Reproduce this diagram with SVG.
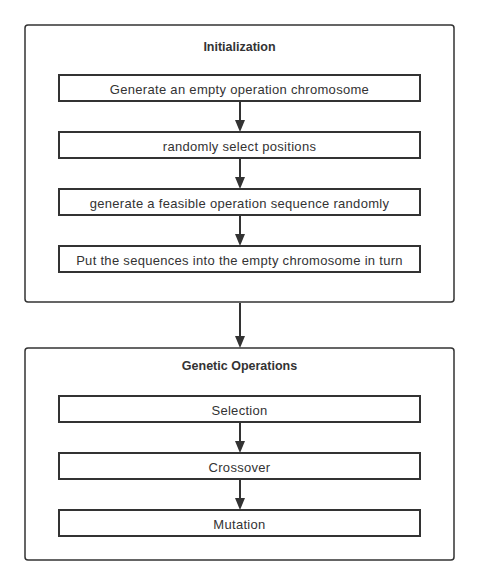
<svg xmlns="http://www.w3.org/2000/svg" width="479" height="585" viewBox="0 0 479 585">
<defs>
<style>
.outer{fill:#fff;stroke:#333;stroke-width:1.5}
.box{fill:#fff;stroke:#333;stroke-width:2}
.t{font-family:"Liberation Sans",Arial,sans-serif;font-size:13px;letter-spacing:0.3px;fill:#333;text-anchor:middle;dominant-baseline:central}
.h{font-weight:bold;font-size:12.5px;letter-spacing:0}
</style>
</defs>
<rect width="479" height="585" fill="#fff"/>
<g id="initialization">
<rect class="outer" x="25" y="25" width="429" height="277" rx="3"/>
<text class="t h" x="239.5" y="47">Initialization</text>
</g>
<g id="gen-empty"><rect class="box" x="59" y="75" width="361" height="26"/><text class="t" x="239.5" y="89.5">Generate an empty operation chromosome</text></g>
<g id="select-pos"><rect class="box" x="59" y="132" width="361" height="26"/><text class="t" x="239.5" y="146.5">randomly select positions</text></g>
<g id="gen-seq"><rect class="box" x="59" y="189" width="361" height="26"/><text class="t" x="239.5" y="203.5">generate a feasible operation sequence randomly</text></g>
<g id="put-seq"><rect class="box" x="59" y="246" width="361" height="26"/><text class="t" x="239.5" y="260.5">Put the sequences into the empty chromosome in turn</text></g>
<g id="genetic-ops">
<rect class="outer" x="25" y="348" width="429" height="212" rx="3"/>
<text class="t h" x="239.5" y="366">Genetic Operations</text>
</g>
<g id="selection"><rect class="box" x="59" y="396" width="361" height="26"/><text class="t" x="239.5" y="410.5">Selection</text></g>
<g id="crossover"><rect class="box" x="59" y="453" width="361" height="26"/><text class="t" x="239.5" y="467.5">Crossover</text></g>
<g id="mutation"><rect class="box" x="59" y="510" width="361" height="26"/><text class="t" x="239.5" y="524.5">Mutation</text></g>
<g id="connectors" fill="#333" stroke="#333">
<line x1="240" y1="102" x2="240" y2="120" stroke-width="2"/><path d="M235,120 L245,120 L240,132 Z" stroke="none"/>
<line x1="240" y1="159" x2="240" y2="177" stroke-width="2"/><path d="M235,177 L245,177 L240,189 Z" stroke="none"/>
<line x1="240" y1="216" x2="240" y2="234" stroke-width="2"/><path d="M235,234 L245,234 L240,246 Z" stroke="none"/>
<line x1="240" y1="303" x2="240" y2="336" stroke-width="2"/><path d="M235,336 L245,336 L240,348 Z" stroke="none"/>
<line x1="240" y1="423" x2="240" y2="441" stroke-width="2"/><path d="M235,441 L245,441 L240,453 Z" stroke="none"/>
<line x1="240" y1="480" x2="240" y2="498" stroke-width="2"/><path d="M235,498 L245,498 L240,510 Z" stroke="none"/>
</g>
</svg>
